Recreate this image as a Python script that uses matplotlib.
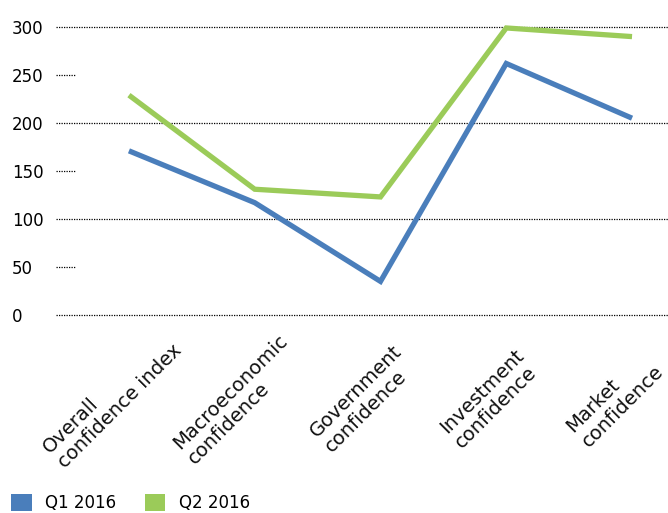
import matplotlib
matplotlib.use("Agg")
import matplotlib.pyplot as plt
import matplotlib.transforms as mtransforms
from matplotlib.patches import Patch

categories = [
    "Overall\nconfidence index",
    "Macroeconomic\nconfidence",
    "Government\nconfidence",
    "Investment\nconfidence",
    "Market\nconfidence",
]
q1_2016 = [171, 117, 35, 262, 205]
q2_2016 = [229, 131, 123, 299, 290]
series_names = ["Q1 2016", "Q2 2016"]
major_ticks = [0, 100, 200, 300]
minor_ticks = [50, 150, 250]
y_tick_values = [0, 50, 100, 150, 200, 250, 300]

BLUE = "#4a7ebb"
GREEN = "#9bcb59"

plt.rcParams["font.family"] = ["DejaVu Sans"]

W, H = 668, 513
fig = plt.figure(figsize=(W / 100, H / 100), dpi=100)
ax_left, ax_right = 56, 668
ax_top, ax_bottom = 27, 315
ax = fig.add_axes([ax_left / W, (H - ax_bottom) / H,
                   (ax_right - ax_left) / W, (ax_bottom - ax_top) / H])

x = list(range(len(categories)))
ax.set_xlim(-0.58, 4.286)
ax.set_ylim(0, 300)

# dotted gridlines: full width at the major values, short stubs at the minor ones
for v in major_ticks:
    ax.axhline(v, color="black", lw=0.9, ls=(0, (1, 1)), zorder=1, clip_on=False)
for v in minor_ticks:
    ax.axhline(v, xmin=0, xmax=19 / (ax_right - ax_left), color="black",
               lw=0.9, ls=(0, (1, 1)), zorder=1)

ax.plot(x, q1_2016, color=BLUE, lw=3.8, solid_capstyle="butt",
        solid_joinstyle="miter", zorder=3, clip_on=False)
ax.plot(x, q2_2016, color=GREEN, lw=3.8, solid_capstyle="butt",
        solid_joinstyle="miter", zorder=3, clip_on=False)

for s in ax.spines.values():
    s.set_visible(False)

ax.set_yticks(y_tick_values)
ax.set_yticklabels([str(v) for v in y_tick_values])
ax.tick_params(axis="y", length=0, pad=(ax_left - 12) * 0.72, labelsize=12)
for lbl in ax.get_yticklabels():
    lbl.set_horizontalalignment("left")

ax.set_xticks([])

# rotated two-line category labels under the axis
offset = mtransforms.ScaledTranslation(-17 / 100, -84 / 100, fig.dpi_scale_trans)
blend = mtransforms.blended_transform_factory(ax.transData, ax.transAxes)
for xi, name in zip(x, categories):
    ax.text(xi, 0, name, transform=blend + offset, rotation=45,
            rotation_mode="anchor", ha="center", va="center",
            multialignment="left", fontsize=14, color="#111111",
            linespacing=1.15)

handles = [Patch(facecolor=BLUE, edgecolor="none"),
           Patch(facecolor=GREEN, edgecolor="none")]
fig.legend(handles, series_names, loc="lower left",
           bbox_to_anchor=(11 / W, 1 / H), ncol=2, frameon=False,
           fontsize=12, handlelength=1.25, handleheight=1.25,
           handletextpad=0.8, columnspacing=1.7, borderpad=0,
           borderaxespad=0)

fig.savefig("out.png", dpi=100)
